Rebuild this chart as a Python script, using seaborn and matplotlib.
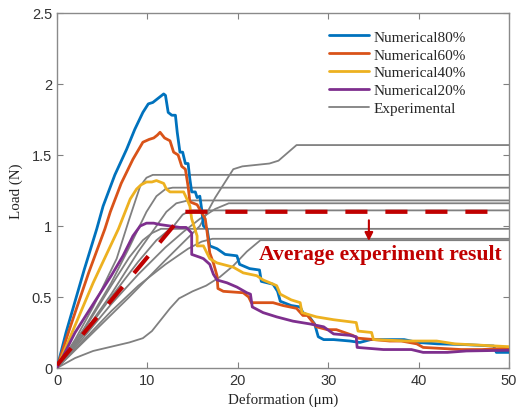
import numpy as np
import pandas as pd
import matplotlib
matplotlib.use("Agg")
import matplotlib.pyplot as plt
import seaborn as sns

# ---------------- data ----------------
blue_x = [0, 1, 2, 3, 4.4, 5.1, 6.4, 7.7, 8.6, 9.5, 10.1, 10.6, 11.0, 11.4, 11.8, 12.0, 12.3, 12.7, 13.1, 13.3,
          13.6, 13.9, 14.2, 14.5, 14.7, 14.9, 15.3, 15.5, 15.8, 16.0, 16.2, 16.6, 16.9, 17.7, 18.6, 19.9, 20.2, 21.3,
          22.4, 22.6, 23.9, 24.4, 24.7, 25.9, 26.9, 27.2, 27.8, 28.5, 28.9, 29.5, 30.6, 32.4, 33.5, 34.7, 38.4, 39.9,
          42.1, 45.0, 48.3, 48.6, 50]
blue_y = [0, 0.25, 0.47, 0.69, 0.98, 1.14, 1.36, 1.54, 1.68, 1.80, 1.86, 1.87, 1.89, 1.91, 1.93, 1.92, 1.80, 1.78, 1.78, 1.66,
          1.52, 1.52, 1.44, 1.44, 1.33, 1.24, 1.24, 1.20, 1.21, 1.12, 1.00, 0.98, 0.86, 0.84, 0.80, 0.79, 0.73, 0.70,
          0.69, 0.61, 0.59, 0.54, 0.47, 0.44, 0.43, 0.39, 0.37, 0.31, 0.22, 0.20, 0.20, 0.19, 0.18, 0.20, 0.20, 0.18,
          0.17, 0.165, 0.155, 0.11, 0.11]

orange_x = [0, 1, 2, 3.5, 5.3, 5.9, 7.1, 8.4, 9.5, 10.2, 10.7, 11.1, 11.4, 11.9, 12.5, 12.9, 13.4, 13.8, 14.2, 14.5,
            14.7, 15.5, 16.4, 16.6, 16.9, 17.3, 17.7, 17.8, 18.4, 20.6, 21.2, 21.5, 23.9, 25.0, 26.5, 27.2, 27.7,
            28.7, 29.9, 30.9, 32.7, 33.3, 35.1, 36.8, 38.1, 39.8, 40.5, 44.7, 47.0, 50]
orange_y = [0, 0.20, 0.39, 0.67, 0.98, 1.10, 1.30, 1.47, 1.59, 1.61, 1.62, 1.64, 1.66, 1.62, 1.60, 1.52, 1.50, 1.42, 1.40, 1.28,
            1.17, 1.15, 1.05, 0.96, 0.81, 0.74, 0.65, 0.56, 0.54, 0.53, 0.50, 0.46, 0.46, 0.44, 0.42, 0.37, 0.37,
            0.29, 0.27, 0.27, 0.23, 0.21, 0.20, 0.19, 0.19, 0.17, 0.145, 0.13, 0.13, 0.14]

yellow_x = [0, 2, 4, 6.8, 8.1, 8.8, 9.3, 9.9, 10.5, 11.0, 11.8, 12.1, 12.5, 12.9, 13.6, 14.0, 14.3, 14.7, 14.9, 15.5,
            15.5, 16.2, 16.9, 17.7, 19.5, 20.6, 22.1, 22.8, 24.3, 24.7, 25.9, 26.9, 27.1, 28.7, 30.6, 33.1, 33.3,
            34.8, 35.0, 38.7, 42.0, 44.0, 47.0, 50]
yellow_y = [0, 0.30, 0.60, 0.98, 1.19, 1.26, 1.29, 1.31, 1.31, 1.32, 1.30, 1.26, 1.24, 1.24, 1.24, 1.24, 1.20, 1.14, 1.05, 0.93,
            0.86, 0.86, 0.77, 0.74, 0.71, 0.67, 0.65, 0.62, 0.58, 0.52, 0.48, 0.46, 0.39, 0.36, 0.34, 0.32, 0.26,
            0.25, 0.20, 0.19, 0.19, 0.17, 0.16, 0.15]

purple_x = [0, 2, 4, 6, 7.3, 8.4, 9.2, 9.9, 10.7, 11.4, 12.5, 13.6, 14.3, 14.9, 14.9, 15.8, 16.2, 16.9, 17.3, 17.7,
            18.8, 19.9, 21.0, 21.4, 21.6, 22.8, 24.3, 26.1, 28.0, 29.5, 30.6, 32.4, 33.1, 33.2, 36.1, 39.2, 40.5,
            43.2, 45.3, 50]
purple_y = [0, 0.25, 0.45, 0.65, 0.79, 0.93, 1.00, 1.02, 1.02, 1.01, 1.00, 0.99, 0.99, 0.95, 0.80, 0.78, 0.77, 0.73, 0.66, 0.62,
            0.60, 0.57, 0.53, 0.52, 0.43, 0.39, 0.36, 0.33, 0.31, 0.29, 0.24, 0.23, 0.22, 0.145, 0.13, 0.13, 0.11,
            0.11, 0.12, 0.125]

exp1_x = [0, 2, 4, 6.6, 8, 9.2, 9.9, 10.6, 50]
exp1_y = [0, 0.20, 0.43, 0.77, 1.05, 1.28, 1.34, 1.36, 1.36]
exp2_x = [0, 3, 6, 8, 9.9, 11.0, 12.0, 12.8, 50]
exp2_y = [0, 0.28, 0.60, 0.85, 1.10, 1.21, 1.26, 1.27, 1.27]
exp3_x = [0, 3, 6, 9, 11, 12.1, 13.2, 14.5, 50]
exp3_y = [0, 0.25, 0.52, 0.82, 1.00, 1.10, 1.16, 1.18, 1.18]
exp4_x = [0, 3, 6, 9, 12, 14, 15.8, 17.5, 19.0, 50]
exp4_y = [0, 0.22, 0.45, 0.66, 0.85, 0.96, 1.05, 1.12, 1.16, 1.16]
exp5_x = [0, 3, 6, 9, 11, 12.9, 13.9, 14.8, 50]
exp5_y = [0, 0.24, 0.50, 0.75, 0.90, 1.00, 1.08, 1.11, 1.11]
exp6_x = [0, 3, 6, 8, 9.5, 10.5, 11.5, 50]
exp6_y = [0, 0.27, 0.58, 0.78, 0.90, 0.95, 0.98, 0.98]
exp7_x = [0, 3, 6, 9, 12, 14.5, 16, 17.2, 50]
exp7_y = [0, 0.20, 0.40, 0.58, 0.73, 0.84, 0.89, 0.91, 0.91]
exp8_x = [0, 2, 4, 6, 8, 9.5, 10.5, 11.5, 12.5, 13.5, 15, 16.5, 18, 19.5, 21, 22.5, 50]
exp8_y = [0, 0.07, 0.12, 0.15, 0.18, 0.21, 0.26, 0.34, 0.42, 0.49, 0.54, 0.58, 0.64, 0.72, 0.82, 0.90, 0.90]
exp9_x = [0, 4, 8, 12, 15.8, 17.5, 19.5, 20.5, 23.5, 24.5, 26.5, 50]
exp9_y = [0, 0.25, 0.50, 0.76, 1.00, 1.20, 1.40, 1.42, 1.44, 1.46, 1.57, 1.57]

avg_x = [0, 14.2, 48]
avg_y = [0.02, 1.10, 1.10]

labels = ["Numerical80%", "Numerical60%", "Numerical40%", "Numerical20%", "Experimental"]
colors = ["#0072BD", "#D95319", "#EDB120", "#7E2F8E"]
gray = "#808080"
red = "#C00000"

# ---------------- figure ----------------
sns.set_theme(style="white")
plt.rcParams["font.family"] = ["Liberation Sans", "DejaVu Sans"]
serif = ["Liberation Serif", "DejaVu Serif"]

fig = plt.figure(figsize=(5.22, 4.14), dpi=100)
ax = fig.add_axes([57 / 522, 45 / 414, 452 / 522, 355 / 414])

exps = [(exp1_x, exp1_y), (exp2_x, exp2_y), (exp3_x, exp3_y), (exp4_x, exp4_y), (exp5_x, exp5_y),
        (exp6_x, exp6_y), (exp7_x, exp7_y), (exp8_x, exp8_y), (exp9_x, exp9_y)]
for i, (ex, ey) in enumerate(exps):
    sns.lineplot(x=ex, y=ey, ax=ax, color=gray, linewidth=1.3, sort=False, estimator=None,
                 label=labels[4] if i == 0 else None, legend=False, zorder=2)

nums = [(blue_x, blue_y), (orange_x, orange_y), (yellow_x, yellow_y), (purple_x, purple_y)]
for (nx, ny), c, lab in zip(nums, colors, labels[:4]):
    sns.lineplot(x=nx, y=ny, ax=ax, color=c, linewidth=2.0, sort=False, estimator=None,
                 label=lab, legend=False, zorder=3)

ax.plot(avg_x, avg_y, color=red, linewidth=3.0, dashes=(5.3, 4.3), zorder=5, solid_capstyle="butt",
        dash_capstyle="butt")

ax.annotate("", xy=(34.5, 0.875), xytext=(34.5, 1.06),
            arrowprops=dict(arrowstyle="-|>", color=red, lw=1.5, mutation_scale=12), zorder=6)
ax.text(22.4, 0.80, "Average experiment result", color=red, fontsize=15.6, fontweight="bold",
        family=serif, ha="left", va="center", zorder=6)

ax.set_xlim(0, 50)
ax.set_ylim(0, 2.5)
ax.set_xticks([0, 10, 20, 30, 40, 50])
ax.set_xticklabels(["0", "10", "20", "30", "40", "50"])
ax.set_yticks([0, 0.5, 1, 1.5, 2, 2.5])
ax.set_yticklabels(["0", "0.5", "1", "1.5", "2", "2.5"])
ax.tick_params(axis="both", direction="in", length=4, width=0.8, colors="#808080",
               labelcolor="#333333", labelsize=10.5, top=True, right=True, bottom=True, left=True)
for s in ax.spines.values():
    s.set_color("#8a8a8a")
    s.set_linewidth(1.0)
    s.set_visible(True)

ax.set_xlabel("Deformation (\u03bcm)", family=serif, fontsize=10.8, color="#222222", labelpad=4)
ax.set_ylabel("Load (N)", family=serif, fontsize=10.8, color="#222222", labelpad=6)

handles, labs = ax.get_legend_handles_labels()
order = [labs.index(l) for l in labels]
leg = ax.legend([handles[i] for i in order], [labs[i] for i in order], loc="upper right",
                bbox_to_anchor=(0.905, 0.952), frameon=False, prop={"family": serif, "size": 11},
                handlelength=2.6, handletextpad=0.3, labelspacing=0.27, borderaxespad=0.0, borderpad=0.0)

fig.savefig("out.png", dpi=100)
